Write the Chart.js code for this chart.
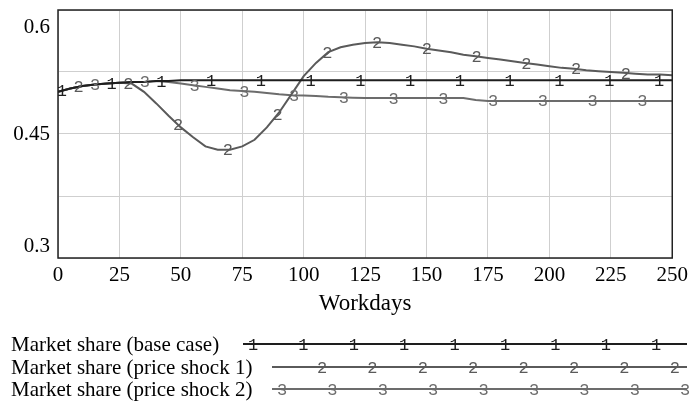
<!DOCTYPE html>
<html>
<head>
<meta charset="utf-8">
<script src="https://cdn.jsdelivr.net/npm/chart.js"></script>
<style>
  html, body { margin: 0; padding: 0; background: #fff; }
</style>
</head>
<body>
<canvas id="chart" width="693" height="401"></canvas>
<script>
// data
const days = [0, 5, 10, 15, 20, 25, 30, 35, 40, 45, 50, 55, 60, 65, 70, 75, 80, 85, 90, 95,
  100, 105, 110, 115, 120, 125, 130, 135, 140, 145, 150, 155, 160, 165, 170, 175, 180, 185, 190, 195,
  200, 205, 210, 215, 220, 225, 230, 235, 240, 245, 250];

const baseCase = [0.501, 0.505, 0.508, 0.510, 0.511, 0.512, 0.513, 0.513, 0.514, 0.514, 0.515, 0.515, 0.515, 0.515, 0.515, 0.515, 0.515, 0.515, 0.515, 0.515,
  0.515, 0.515, 0.515, 0.515, 0.515, 0.515, 0.515, 0.515, 0.515, 0.515, 0.515, 0.515, 0.515, 0.515, 0.515, 0.515, 0.515, 0.515, 0.515, 0.515,
  0.515, 0.515, 0.515, 0.515, 0.515, 0.515, 0.515, 0.515, 0.515, 0.515, 0.515];

const priceShock1 = [0.501, 0.505, 0.508, 0.510, 0.511, 0.512, 0.511, 0.501, 0.487, 0.472, 0.458, 0.446, 0.435, 0.431, 0.431, 0.435, 0.443, 0.458, 0.476, 0.498,
  0.520, 0.536, 0.549, 0.555, 0.558, 0.560, 0.561, 0.560, 0.558, 0.556, 0.553, 0.551, 0.549, 0.546, 0.544, 0.542, 0.540, 0.538, 0.536, 0.534,
  0.532, 0.530, 0.529, 0.527, 0.526, 0.525, 0.524, 0.523, 0.522, 0.522, 0.521];

const priceShock2 = [0.501, 0.505, 0.508, 0.510, 0.511, 0.512, 0.513, 0.513, 0.514, 0.513, 0.511, 0.509, 0.507, 0.505, 0.503, 0.502, 0.501, 0.4995, 0.498, 0.497,
  0.4965, 0.496, 0.495, 0.4945, 0.494, 0.4935, 0.4935, 0.4935, 0.4935, 0.4935, 0.4935, 0.4935, 0.4935, 0.4935, 0.491, 0.490, 0.490, 0.490, 0.490, 0.490,
  0.490, 0.490, 0.490, 0.490, 0.490, 0.490, 0.490, 0.490, 0.490, 0.490, 0.490];

const seriesNames = ['Market share (base case)', 'Market share (price shock 1)', 'Market share (price shock 2)'];
const seriesTags = ['1', '2', '3'];
const xTicks = [0, 25, 50, 75, 100, 125, 150, 175, 200, 225, 250];
const yGrid = [0.3, 0.375, 0.45, 0.525, 0.6];
const yLabels = [0.3, 0.45, 0.6];

const colors = ['#1e1e1e', '#5a5a5a', '#6c6c6c'];
const SERIF = '"Liberation Serif", "Times New Roman", serif';
const MONO = '"Liberation Mono", "Courier New", monospace';

// where the number tags go along the lines (in workdays)
const tagStart = [1.6, 8.4, 15.1];
const tagStep = 20.25;

function valueAt(arr, x) {
    for (let j = 0; j < days.length - 1; j++) {
        if (x >= days[j] && x <= days[j + 1]) {
            const t = (x - days[j]) / (days[j + 1] - days[j]);
            return arr[j] + t * (arr[j + 1] - arr[j]);
        }
    }
    return arr[arr.length - 1];
}

const allSeries = [baseCase, priceShock1, priceShock2];

const decorations = {
    id: 'decorations',
    afterDatasetsDraw(chart) {
        const ctx = chart.ctx;
        const xs = chart.scales.x, ys = chart.scales.y;

        // number tags on the lines
        ctx.save();
        ctx.font = '17px ' + MONO;
        ctx.textAlign = 'center';
        ctx.textBaseline = 'middle';
        allSeries.forEach((arr, i) => {
            ctx.fillStyle = colors[i];
            for (let x = tagStart[i]; x <= 250; x += tagStep) {
                ctx.fillText(seriesTags[i], xs.getPixelForValue(x), ys.getPixelForValue(valueAt(arr, x)) + 1);
            }
        });
        ctx.restore();
    },
    afterDraw(chart) {
        const ctx = chart.ctx;
        const ys = chart.scales.y;
        const area = chart.chartArea;

        // frame
        ctx.save();
        ctx.strokeStyle = '#222';
        ctx.lineWidth = 1.5;
        ctx.strokeRect(area.left, area.top, area.right - area.left, area.bottom - area.top);

        // y labels, pulled inside the frame at the ends
        ctx.fillStyle = '#000';
        ctx.font = '21px ' + SERIF;
        ctx.textAlign = 'right';
        ctx.textBaseline = 'middle';
        yLabels.forEach(v => {
            let y = ys.getPixelForValue(v);
            y = Math.max(area.top + 17, Math.min(area.bottom - 12, y));
            ctx.fillText(String(v), area.left - 8, y);
        });

        // axis title
        ctx.font = '23px ' + SERIF;
        ctx.textAlign = 'center';
        ctx.fillText('Workdays', (area.left + area.right) / 2, area.bottom + 46);

        // legend
        const rowY = [344, 367, 389];
        const lineStart = [243, 272, 272];
        const firstTag = [253, 322, 282];
        const lineEnd = 687;
        seriesNames.forEach((name, i) => {
            ctx.fillStyle = '#000';
            ctx.font = '21px ' + SERIF;
            ctx.textAlign = 'left';
            ctx.fillText(name, 11, rowY[i] + 1);

            ctx.strokeStyle = colors[i];
            ctx.lineWidth = 2;
            ctx.beginPath();
            ctx.moveTo(lineStart[i], rowY[i]);
            ctx.lineTo(lineEnd, rowY[i]);
            ctx.stroke();

            ctx.fillStyle = colors[i];
            ctx.font = '17px ' + MONO;
            ctx.textAlign = 'center';
            for (let x = firstTag[i]; x <= lineEnd + 1; x += 50.4) {
                ctx.fillText(seriesTags[i], x, rowY[i] + 1);
            }
        });
        ctx.restore();
    }
};

const ctx = document.getElementById('chart').getContext('2d');
new Chart(ctx, {
    type: 'line',
    data: {
        labels: days,
        datasets: allSeries.map((arr, i) => ({
            label: seriesNames[i],
            data: arr.map((v, j) => ({ x: days[j], y: v })),
            borderColor: colors[i],
            borderWidth: 2,
            pointRadius: 0,
            tension: 0,
            fill: false
        }))
    },
    options: {
        responsive: false,
        animation: false,
        layout: { padding: { left: 0, right: 17, top: 10, bottom: 0 } },
        plugins: {
            legend: { display: false },
            tooltip: { enabled: false }
        },
        scales: {
            x: {
                type: 'linear',
                min: 0,
                max: 250,
                afterBuildTicks: s => { s.ticks = xTicks.map(v => ({ value: v })); },
                afterFit: s => { s.height = 143; },
                grid: { color: '#cfcfcf', lineWidth: 1, drawTicks: false },
                border: { display: false },
                ticks: {
                    color: '#000',
                    font: { family: SERIF, size: 21 },
                    padding: 5,
                    maxRotation: 0
                }
            },
            y: {
                min: 0.3,
                max: 0.6,
                afterBuildTicks: s => { s.ticks = yGrid.map(v => ({ value: v })); },
                afterFit: s => { s.width = 58; },
                grid: { color: '#cfcfcf', lineWidth: 1, drawTicks: false },
                border: { display: false },
                ticks: { display: false }
            }
        }
    },
    plugins: [decorations]
});
</script>
</body>
</html>
